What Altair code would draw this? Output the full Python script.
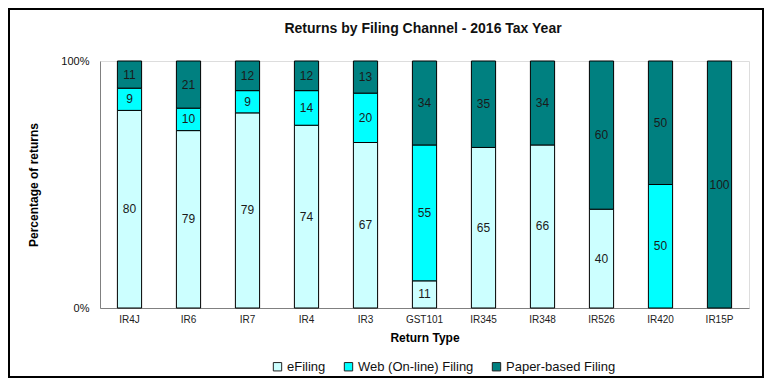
import altair as alt
import pandas as pd

title_text = ["Returns by Filing Channel - 2016 Tax Year"]
types = ["IR4J", "IR6", "IR7", "IR4", "IR3", "GST101", "IR345", "IR348", "IR526", "IR420", "IR15P"]
channels = ["eFiling", "Web (On-line) Filing", "Paper-based Filing"]
efiling = [80, 79, 79, 74, 67, 11, 65, 66, 40, 0, 0]
web = [9, 10, 9, 14, 20, 55, 0, 0, 0, 50, 0]
paper = [11, 21, 12, 12, 13, 34, 35, 34, 60, 50, 100]
colors = ["#CCFFFF", "#00FFFF", "#008080"]

rows = []
for i, t in enumerate(types):
    vals = [efiling[i], web[i], paper[i]]
    tot = sum(vals)
    cum = 0.0
    for ch, v in zip(channels, vals):
        start = cum / tot
        cum += v
        end = cum / tot
        rows.append({"type": t, "channel": ch, "value": v, "start": start,
                     "end": end, "mid": (start + end) / 2,
                     "label": str(v) if v > 0 else ""})
df = pd.DataFrame(rows)
df_bars = df[df["value"] > 0]

FONT = "Liberation Sans"
W, H = 649, 247

xenc = alt.X("type:N", sort=types,
             scale=alt.Scale(paddingInner=0.59, paddingOuter=0.295),
             axis=alt.Axis(title="Return Type", labelAngle=0, ticks=False,
                           labelFontSize=10, labelPadding=6, labelColor="#222",
                           titleFontSize=12, titleFontWeight="bold",
                           titlePadding=8, domainColor="#808080", labelFont=FONT,
                           titleFont=FONT))

bars = alt.Chart(df_bars).mark_bar(stroke="black", strokeWidth=1).encode(
    x=xenc,
    y=alt.Y("start:Q", scale=alt.Scale(domain=[0, 1], nice=False),
            axis=alt.Axis(title="Percentage of returns", values=[0, 1], format=".0%",
                          ticks=False, grid=False, labelFontSize=11, labelPadding=11,
                          labelColor="#111", titleFontSize=12, titleFontWeight="bold",
                          titleX=-67, titleY=H / 2, titleAngle=-90,
                          titleBaseline="middle", titleAlign="center",
                          domainColor="#808080", labelFont=FONT, titleFont=FONT)),
    y2="end:Q",
    color=alt.Color("channel:N", sort=channels,
                    scale=alt.Scale(domain=channels, range=colors),
                    legend=alt.Legend(title=None, orient="none", legendX=171, legendY=299,
                                      direction="horizontal", symbolType="square",
                                      symbolSize=70, symbolStrokeColor="#222",
                                      symbolStrokeWidth=1, labelFontSize=13,
                                      labelFont=FONT, labelColor="#111",
                                      columnPadding=16, labelOffset=3)),
)

texts = alt.Chart(df).mark_text(fontSize=12, font=FONT, color="#1a1a1a").encode(
    x=alt.X("type:N", sort=types),
    y=alt.Y("mid:Q"),
    text="label:N",
)

title = alt.Chart(pd.DataFrame({"t": title_text})).mark_text(
    font=FONT, fontSize=14, fontWeight="bold", color="#111", baseline="middle",
    align="center", clip=False
).encode(x=alt.value(323), y=alt.value(-32), text="t:N")

border = alt.Chart(pd.DataFrame({"a": [0]})).mark_rect(
    fill=None, stroke="black", strokeWidth=2, clip=False
).encode(
    x=alt.value(-91), x2=alt.value(W + 14), y=alt.value(-52), y2=alt.value(H + 69)
)

chart = alt.layer(bars, texts, title, border).properties(
    width=W, height=H,
    autosize=alt.AutoSizeParams(type="none"),
    padding={"left": 92, "top": 53, "right": 15, "bottom": 70},
).configure_view(stroke="#808080", strokeWidth=1.5).configure(background="white")

chart.save("out.html", embed_options={"renderer": "svg", "actions": False})
